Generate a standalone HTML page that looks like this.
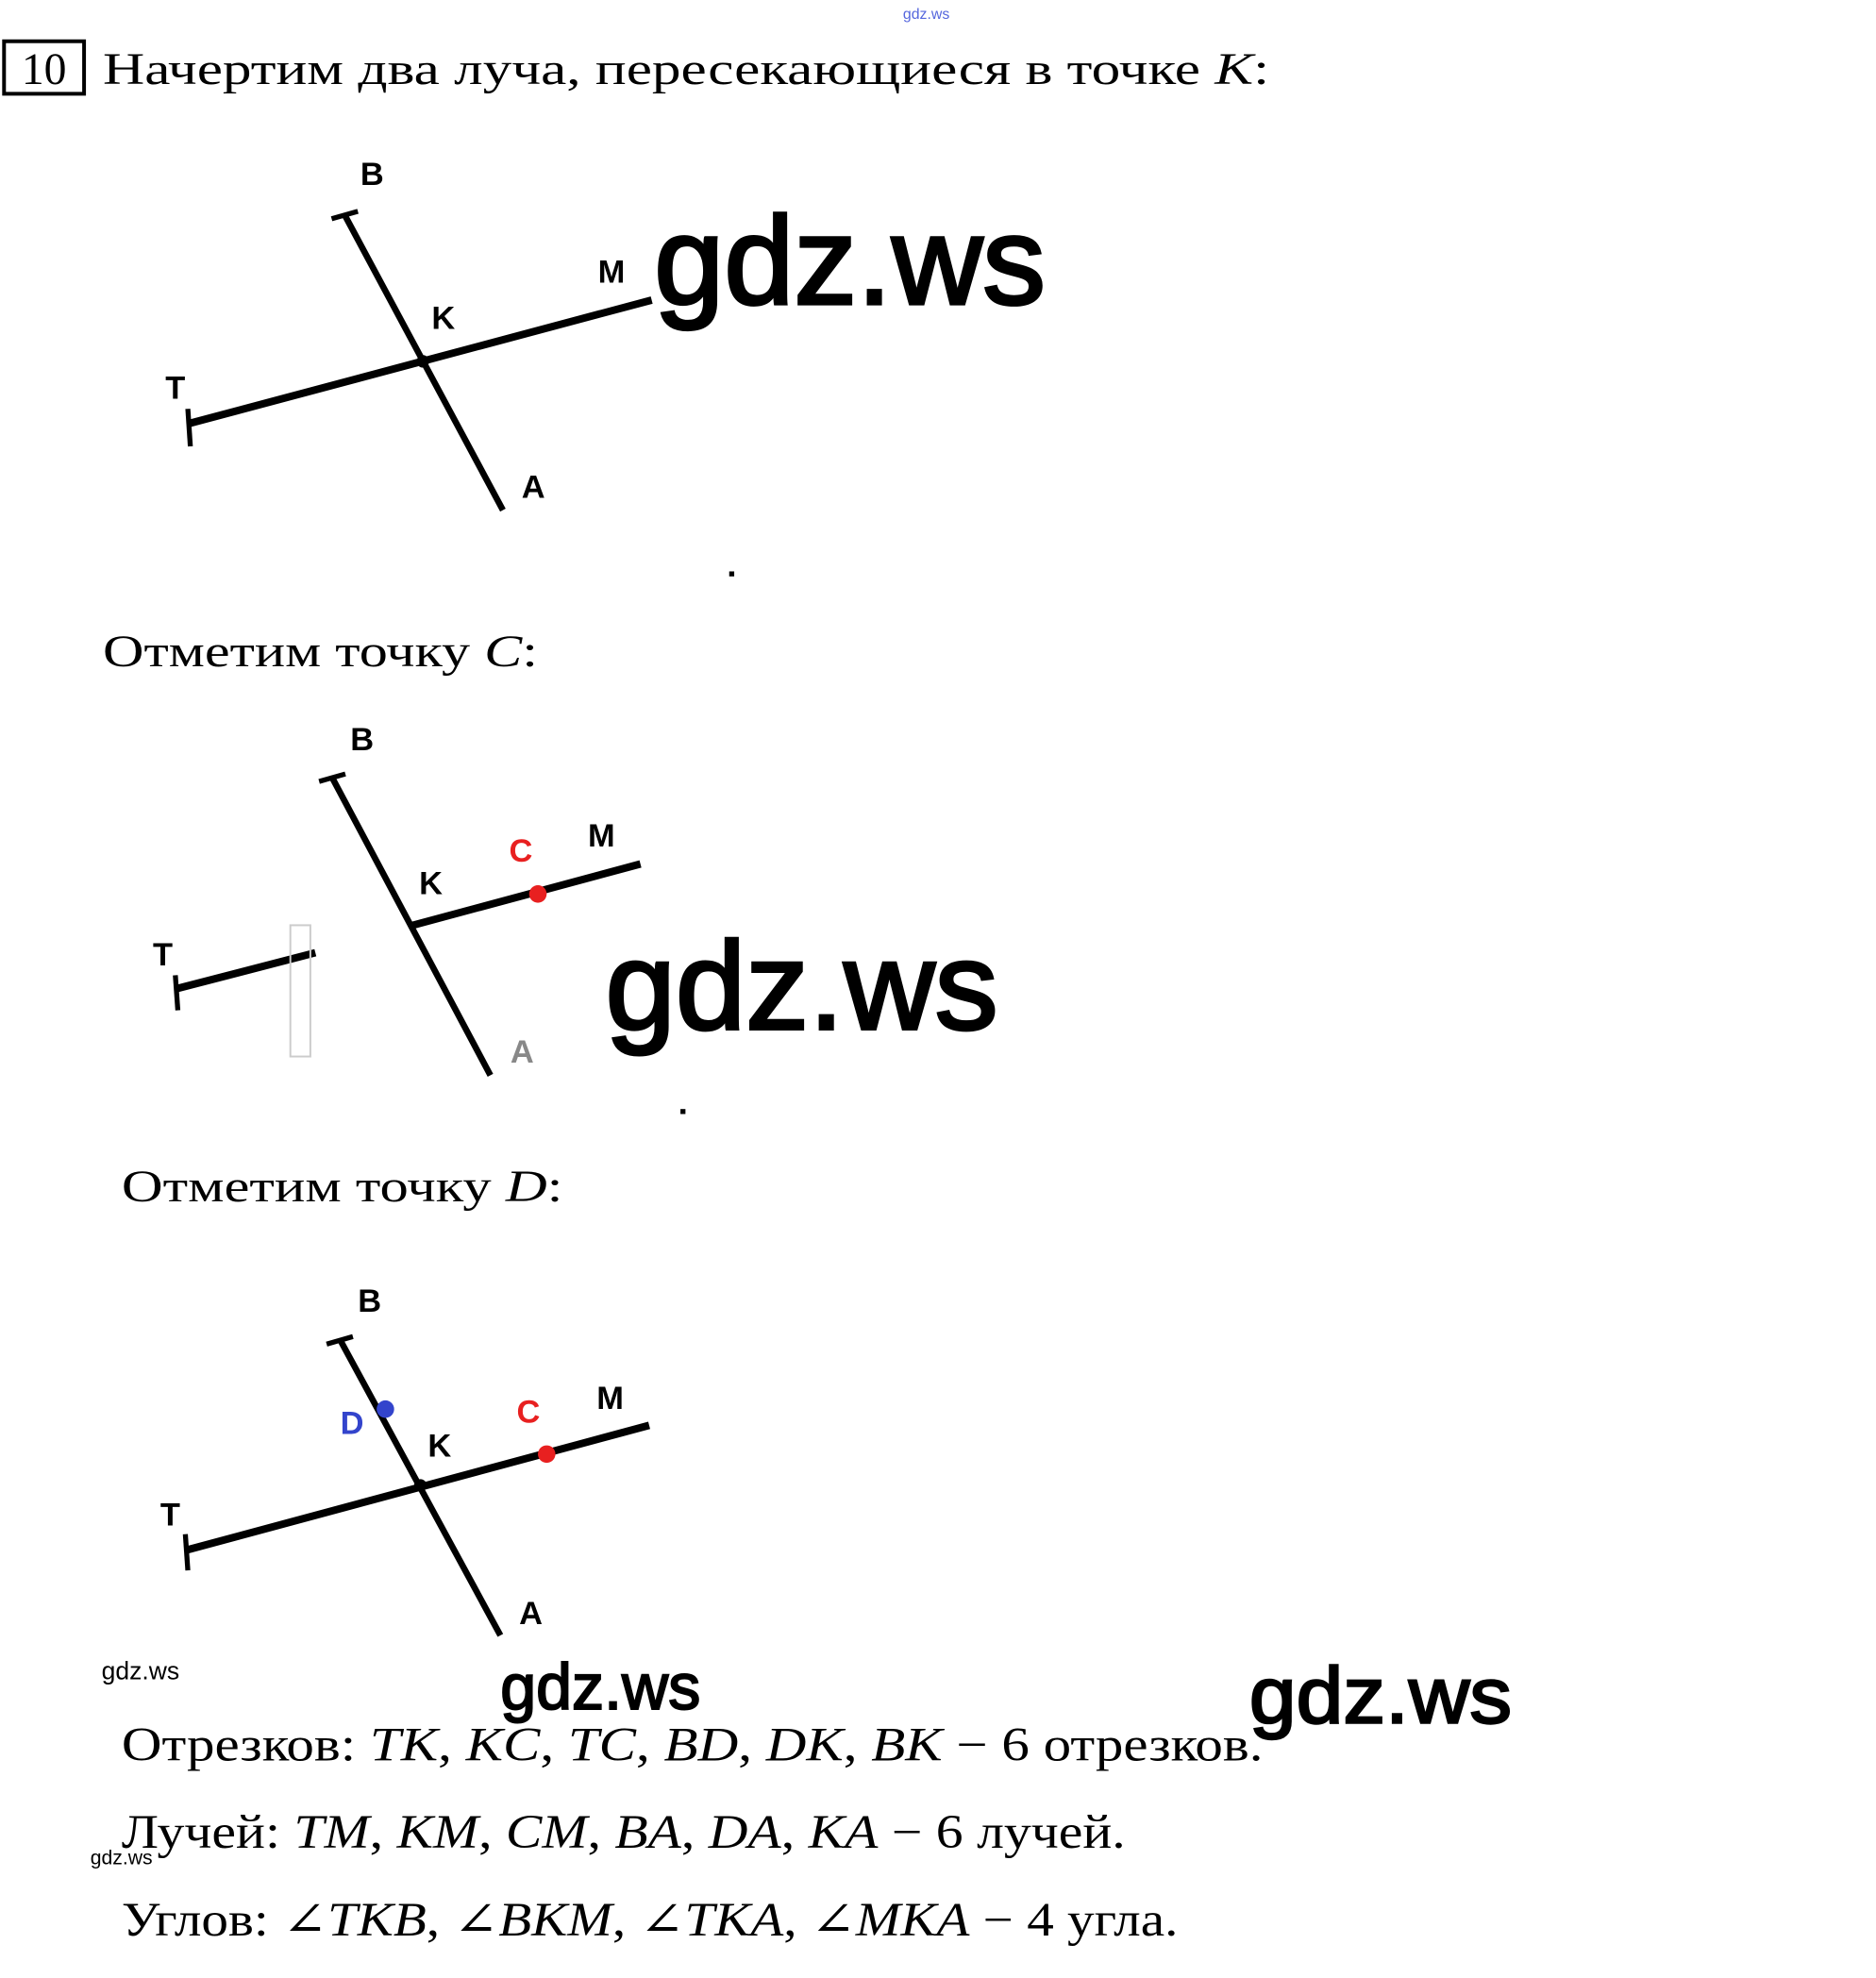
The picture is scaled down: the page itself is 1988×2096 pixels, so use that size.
<!DOCTYPE html>
<html><head><meta charset="utf-8"><style>
html,body{margin:0;padding:0;background:#fff;}
svg{display:block;}
.s{font-family:"Liberation Serif","DejaVu Serif",serif;}
.l{font-family:"Liberation Sans",Arial,sans-serif;font-weight:bold;font-size:26px;}
.w{font-family:"Liberation Sans",Arial,sans-serif;}
</style></head><body>
<svg width="1988" height="2096" viewBox="0 0 1500 1582" xmlns="http://www.w3.org/2000/svg">
<g transform="translate(0,5)">
<text x="722" y="10" class="w" font-size="12" fill="#5566dd">gdz.ws</text>
<rect x="3" y="28" width="64" height="42" fill="none" stroke="#000" stroke-width="3"/>
<text x="35" y="62" class="s" font-size="36" text-anchor="middle">10</text>
<text x="82" y="62" class="s" font-size="36" textLength="933" lengthAdjust="spacingAndGlyphs">Начертим два луча, пересекающиеся в точке <tspan font-style="italic">K</tspan>:</text>

<!-- diagram 1 -->
<g stroke="#000" fill="none" stroke-linecap="butt">
<line x1="276" y1="168" x2="402" y2="403" stroke-width="5"/>
<line x1="265" y1="170" x2="286" y2="164" stroke-width="4"/>
<line x1="150" y1="334" x2="521" y2="235" stroke-width="6"/>
<line x1="150" y1="322" x2="152" y2="352" stroke-width="4"/>
</g>
<circle cx="338" cy="284" r="5"/>
<text x="288" y="143" class="l">B</text>
<text x="478" y="221" class="l">M</text>
<text x="345" y="258" class="l">K</text>
<text x="132" y="314" class="l">T</text>
<text x="417" y="393" class="l">A</text>
<text x="523" y="238" class="w" font-size="100" stroke="#000" stroke-width="2.5" textLength="313" lengthAdjust="spacingAndGlyphs">gdz.ws</text>
<rect x="583" y="452" width="4" height="4"/>

<text x="82" y="528" class="s" font-size="36" textLength="348" lengthAdjust="spacingAndGlyphs">Отметим точку <tspan font-style="italic">C</tspan>:</text>

<!-- diagram 2 -->
<g stroke="#000" fill="none">
<line x1="266" y1="618" x2="392" y2="855" stroke-width="5"/>
<line x1="255" y1="620" x2="276" y2="614" stroke-width="4"/>
<line x1="140" y1="786" x2="252" y2="757" stroke-width="6"/>
<line x1="330" y1="735" x2="512" y2="686" stroke-width="6"/>
<line x1="140" y1="775" x2="142" y2="803" stroke-width="4"/>
</g>
<rect x="232" y="735" width="16" height="105" fill="none" stroke="#ccc" stroke-width="1.5"/>
<circle cx="430" cy="710" r="7" fill="#e82020"/>
<text x="280" y="595" class="l">B</text>
<text x="407" y="684" class="l" fill="#e82020">C</text>
<text x="470" y="672" class="l">M</text>
<text x="335" y="710" class="l">K</text>
<text x="122" y="767" class="l">T</text>
<text x="408" y="845" class="l" fill="#888">A</text>
<text x="484" y="818" class="w" font-size="100" stroke="#000" stroke-width="2.5" textLength="314" lengthAdjust="spacingAndGlyphs">gdz.ws</text>
<rect x="544" y="882" width="4" height="4"/>

<text x="97" y="956" class="s" font-size="36" textLength="353" lengthAdjust="spacingAndGlyphs">Отметим точку <tspan font-style="italic">D</tspan>:</text>

<!-- diagram 3 -->
<g stroke="#000" fill="none">
<line x1="272" y1="1067" x2="400" y2="1303" stroke-width="5"/>
<line x1="261" y1="1070" x2="282" y2="1064" stroke-width="4"/>
<line x1="148" y1="1235" x2="519" y2="1135" stroke-width="6"/>
<line x1="148" y1="1222" x2="150" y2="1251" stroke-width="4"/>
</g>
<circle cx="336" cy="1183" r="5"/>
<circle cx="308" cy="1122" r="7" fill="#3344cc"/>
<circle cx="437" cy="1158" r="7" fill="#e82020"/>
<text x="286" y="1044" class="l">B</text>
<text x="272" y="1142" class="l" fill="#3344cc">D</text>
<text x="413" y="1133" class="l" fill="#e82020">C</text>
<text x="477" y="1122" class="l">M</text>
<text x="342" y="1160" class="l">K</text>
<text x="128" y="1215" class="l">T</text>
<text x="415" y="1294" class="l">A</text>

<text x="81" y="1338" class="w" font-size="20">gdz.ws</text>
<text x="400" y="1362" class="w" font-size="52" stroke="#000" stroke-width="1.5" textLength="160" lengthAdjust="spacingAndGlyphs">gdz.ws</text>
<text x="999" y="1373" class="w" font-size="64" stroke="#000" stroke-width="1.8" textLength="210" lengthAdjust="spacingAndGlyphs">gdz.ws</text>

<text x="97" y="1403" class="s" font-size="38" textLength="913" lengthAdjust="spacingAndGlyphs">Отрезков: <tspan font-style="italic">TK</tspan>, <tspan font-style="italic">KC</tspan>, <tspan font-style="italic">TC</tspan>, <tspan font-style="italic">BD</tspan>, <tspan font-style="italic">DK</tspan>, <tspan font-style="italic">BK</tspan> − 6 отрезков.</text>
<text x="97" y="1473" class="s" font-size="38" textLength="803" lengthAdjust="spacingAndGlyphs">Лучей: <tspan font-style="italic">TM</tspan>, <tspan font-style="italic">KM</tspan>, <tspan font-style="italic">CM</tspan>, <tspan font-style="italic">BA</tspan>, <tspan font-style="italic">DA</tspan>, <tspan font-style="italic">KA</tspan> − 6 лучей.</text>
<text x="72" y="1486" class="w" font-size="16">gdz.ws</text>
<text x="97" y="1543" class="s" font-size="38" textLength="845" lengthAdjust="spacingAndGlyphs">Углов: ∠<tspan font-style="italic">TKB</tspan>, ∠<tspan font-style="italic">BKM</tspan>, ∠<tspan font-style="italic">TKA</tspan>, ∠<tspan font-style="italic">MKA</tspan> − 4 угла.</text>
</g>
</svg>
</body></html>
